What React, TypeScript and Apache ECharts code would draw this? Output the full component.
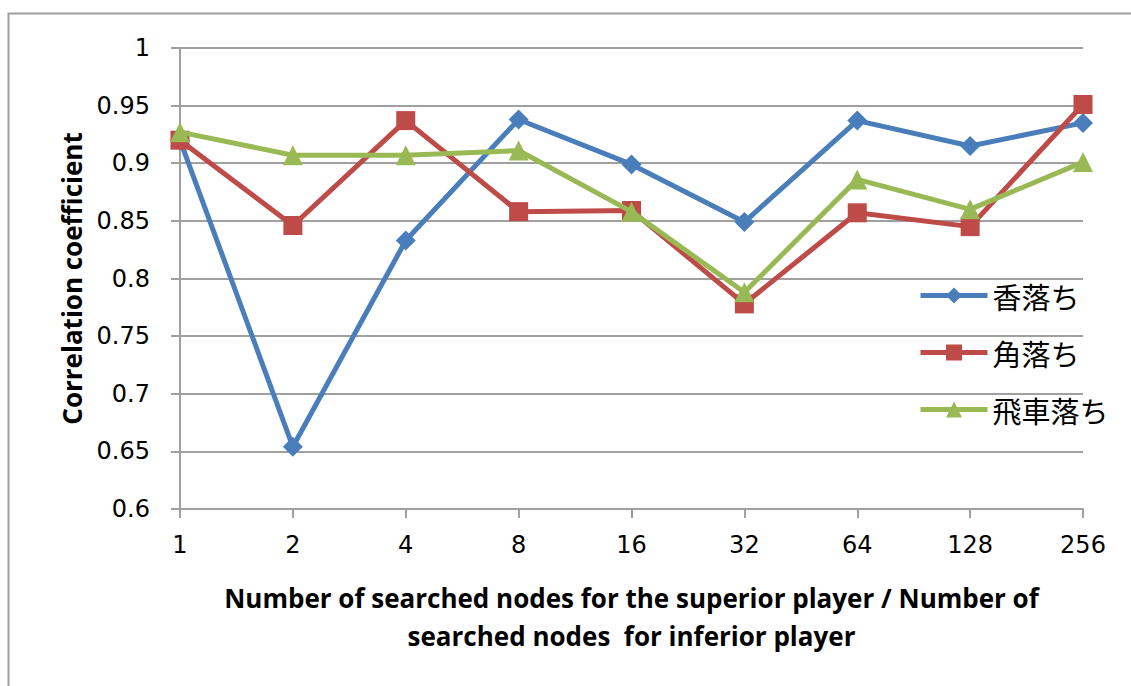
import React, { useEffect, useRef } from "react";
import * as echarts from "echarts";

// Ratio of searched nodes (superior / inferior player)
const categories = ["1", "2", "4", "8", "16", "32", "64", "128", "256"];

const seriesNames = ["香落ち", "角落ち", "飛車落ち"];
const kyoOchi = [0.92, 0.654, 0.833, 0.938, 0.899, 0.849, 0.937, 0.915, 0.935];
const kakuOchi = [0.92, 0.846, 0.937, 0.858, 0.859, 0.778, 0.857, 0.845, 0.951];
const hishaOchi = [0.927, 0.907, 0.907, 0.911, 0.858, 0.788, 0.886, 0.86, 0.901];

const colors = ["#4A7EBB", "#BE4B48", "#98B954"];
const symbols = ["diamond", "rect", "triangle"];
const symbolSizes = [20, 19, 20];

const GRID_GREY = "#A0A0A0";
const TICK_FONT = "'DejaVu Sans', Verdana, sans-serif";
const TITLE_FONT = "'Open Sans', 'Liberation Sans', sans-serif";

export default function App() {
  const ref = useRef<HTMLDivElement>(null);

  useEffect(() => {
    if (!ref.current) return;
    const chart = echarts.init(ref.current, null, { renderer: "svg" });
    const data = [kyoOchi, kakuOchi, hishaOchi];

    chart.setOption({
      animation: false,
      backgroundColor: "#FFFFFF",
      graphic: [
        {
          type: "rect",
          shape: { x: 8.5, y: 13.5, width: 1300, height: 900 },
          style: { fill: "none", stroke: GRID_GREY, lineWidth: 2 },
          silent: true,
        },
      ],
      grid: { left: 180, right: 48, top: 48, bottom: 177 },
      legend: {
        orient: "vertical",
        left: 913,
        top: 275,
        itemWidth: 67,
        itemHeight: 20,
        itemGap: 26,
        lineStyle: { width: 5 },
        textStyle: {
          fontFamily: "'Noto Sans CJK JP', sans-serif",
          fontSize: 29,
          lineHeight: 31,
          color: "#000000",
        },
        data: seriesNames,
      },
      xAxis: {
        type: "category",
        data: categories,
        boundaryGap: false,
        axisLine: { show: true, lineStyle: { color: GRID_GREY, width: 2 } },
        axisTick: { show: true, length: 9, lineStyle: { color: GRID_GREY, width: 2 } },
        axisLabel: {
          margin: 24,
          fontFamily: TICK_FONT,
          fontSize: 24,
          color: "#000000",
        },
        splitLine: { show: false },
        name: "Number of searched nodes for the superior player / Number of\nsearched nodes  for inferior player",
        nameLocation: "middle",
        nameGap: 70,
        nameTextStyle: {
          fontFamily: TITLE_FONT,
          fontWeight: "bold",
          fontSize: 26,
          lineHeight: 38,
          color: "#000000",
        },
      },
      yAxis: {
        type: "value",
        min: 0.6,
        max: 1,
        interval: 0.05,
        axisLine: { show: true, lineStyle: { color: GRID_GREY, width: 2 } },
        axisTick: { show: true, length: 9, lineStyle: { color: GRID_GREY, width: 2 } },
        axisLabel: {
          margin: 30,
          fontFamily: TICK_FONT,
          fontSize: 24,
          color: "#000000",
          formatter: (v: number) => String(parseFloat(v.toFixed(2))),
        },
        splitLine: { show: true, lineStyle: { color: GRID_GREY, width: 2 } },
        name: "Correlation coefficient",
        nameLocation: "middle",
        nameGap: 95,
        nameTextStyle: {
          fontFamily: TITLE_FONT,
          fontWeight: "bold",
          fontSize: 26,
          color: "#000000",
        },
      },
      series: seriesNames.map((name, i) => ({
        name,
        type: "line",
        data: data[i],
        symbol: symbols[i],
        symbolSize: symbolSizes[i],
        showAllSymbol: true,
        color: colors[i],
        lineStyle: { width: 5, color: colors[i] },
        itemStyle: { color: colors[i] },
        z: 2 + i,
      })),
    });

    return () => chart.dispose();
  }, []);

  return (
    <div
      ref={ref}
      style={{ position: "absolute", left: 0, top: 0, width: 1131, height: 686 }}
    />
  );
}
